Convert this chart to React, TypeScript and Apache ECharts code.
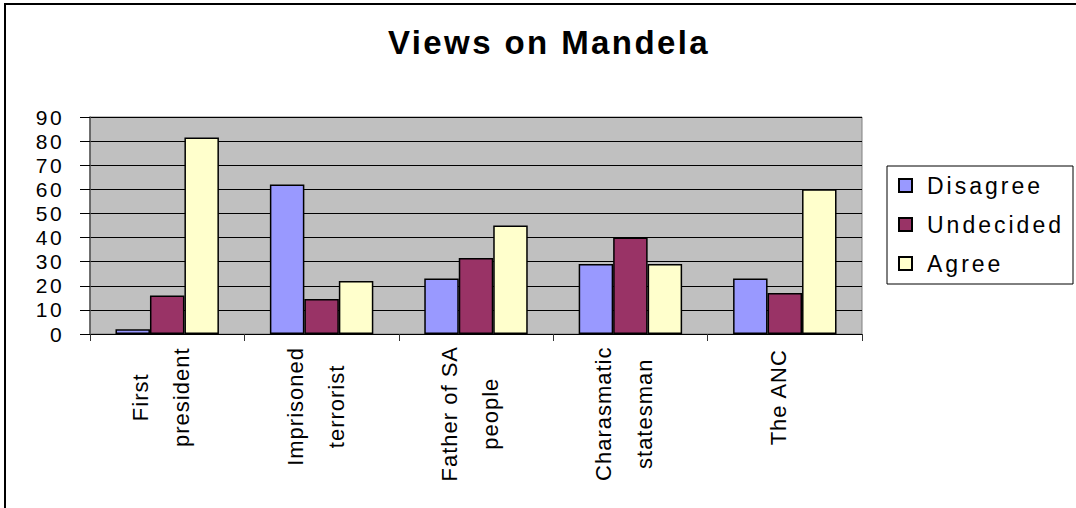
import React, { useEffect, useRef } from "react";
import * as echarts from "echarts";

const categories = [
  "First\npresident",
  "Imprisoned\nterrorist",
  "Father of SA\npeople",
  "Charasmatic\nstatesman",
  "The ANC",
];
const seriesNames = ["Disagree", "Undecided", "Agree"];
const disagree = [2, 62, 23, 29, 23];
const undecided = [16, 14.5, 31.5, 40, 17];
const agree = [81.5, 22, 45, 29, 60];
const colors = ["#9999FF", "#993366", "#FFFFCC"];
const yTicks = { min: 0, max: 90, interval: 10 };

const FONT = "'Liberation Sans', Arial, sans-serif";

// letter-spacing (px) by font size, to imitate the wide glyphs of the original
const spacingBySize: Record<string, string> = {
  "33px": "2.4px",
  "21px": "2.4px",
  "23px": "3px",
  "22px": "1px",
};

export default function App() {
  const ref = useRef<HTMLDivElement>(null);
  useEffect(() => {
    if (!ref.current) return;
    const el = ref.current;
    const chart = echarts.init(el, undefined, { renderer: "svg" });
    const values = [disagree, undecided, agree];
    chart.setOption({
      animation: false,
      backgroundColor: "#ffffff",
      title: {
        text: "Views on Mandela",
        left: 544,
        top: 21,
        textAlign: "center",
        textStyle: { fontFamily: FONT, fontSize: 33, fontWeight: "bold", color: "#000" },
      },
      graphic: [
        {
          type: "rect",
          shape: { x: 5, y: 4, width: 1090, height: 520 },
          style: { fill: "none", stroke: "#000", lineWidth: 2 },
          z: 100,
        },
        {
          type: "rect",
          shape: { x: 887, y: 166, width: 186, height: 118 },
          style: { fill: "#fff", stroke: "#000", lineWidth: 1 },
          z: 0,
        },
      ],
      legend: {
        orient: "vertical",
        left: 898,
        top: 174,
        itemWidth: 13,
        itemHeight: 13,
        itemGap: 16,
        icon: "rect",
        padding: 0,
        textStyle: { fontFamily: FONT, fontSize: 23, color: "#000", padding: [0, 0, 0, 10] },
        data: seriesNames,
        z: 10,
      },
      grid: {
        left: 90,
        top: 117,
        width: 772,
        height: 217,
        show: true,
        backgroundColor: "#C0C0C0",
        borderColor: "#808080",
        borderWidth: 1,
      },
      xAxis: {
        type: "category",
        data: categories,
        boundaryGap: true,
        axisLine: { show: true, lineStyle: { color: "#000", width: 1 } },
        axisTick: { show: true, length: 7, lineStyle: { color: "#333" } },
        axisLabel: {
          rotate: 90,
          interval: 0,
          margin: 18,
          color: "#000",
          fontFamily: FONT,
          fontSize: 22,
          padding: [0, 0, 12, 0],
          formatter: (v: string) =>
            v
              .split("\n")
              .map((s) => `{c|${s}}`)
              .join("\n"),
          rich: {
            c: { align: "center", fontFamily: FONT, fontSize: 22, lineHeight: 41, color: "#000" },
          },
        },
      },
      yAxis: {
        type: "value",
        min: yTicks.min,
        max: yTicks.max,
        interval: yTicks.interval,
        axisLine: { show: true, lineStyle: { color: "#555", width: 1.5 } },
        axisTick: { show: true, length: 10, lineStyle: { color: "#000" } },
        axisLabel: { margin: 26, color: "#000", fontFamily: FONT, fontSize: 21 },
        splitLine: { show: true, lineStyle: { color: "#000", width: 1 } },
      },
      series: seriesNames.map((name, i) => ({
        name,
        type: "bar",
        data: values[i],
        barGap: "0%",
        barCategoryGap: "33%",
        itemStyle: { color: colors[i], borderColor: "#000", borderWidth: 1.5 },
      })),
    });
    const applySpacing = () => {
      el.querySelectorAll("text").forEach((t) => {
        const fs = window.getComputedStyle(t).fontSize;
        const sp = spacingBySize[fs];
        if (sp) (t as SVGTextElement).style.letterSpacing = sp;
      });
    };
    applySpacing();
    const raf = requestAnimationFrame(applySpacing);
    chart.on("finished", applySpacing);
    return () => {
      cancelAnimationFrame(raf);
      chart.dispose();
    };
  }, []);
  return (
    <div
      ref={ref}
      style={{ position: "fixed", left: 0, top: 0, width: 1076, height: 508 }}
    />
  );
}
